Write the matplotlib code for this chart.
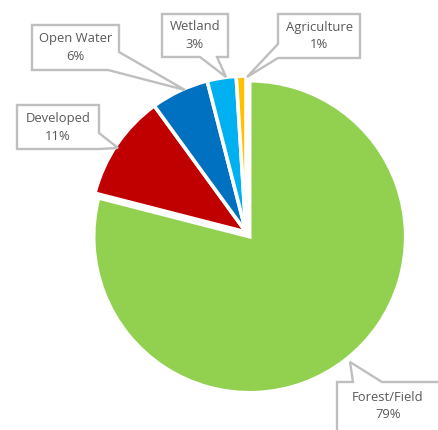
import matplotlib
matplotlib.use("Agg")
import matplotlib.pyplot as plt
from matplotlib.patches import Polygon

# ---- data ----
categories = ["Forest/Field", "Developed", "Open Water", "Wetland", "Agriculture"]
values = [79, 11, 6, 3, 1]
pct_labels = ["79%", "11%", "6%", "3%", "1%"]
colors = ["#92D050", "#C00000", "#0070C0", "#00B0F0", "#FFC000"]

W, H = 438, 430
fig = plt.figure(figsize=(W / 100, H / 100), dpi=100)
ax = fig.add_axes([0, 0, 1, 1])

def P(x, y):
    return (x, H - y)

wedges, _ = ax.pie(values, colors=colors, startangle=90, counterclock=False,
                   center=P(246, 232), radius=156,
                   explode=[6, 0, 0, 0, 0],
                   wedgeprops=dict(edgecolor="white", linewidth=2.6))

ax.set_xlim(0, W)
ax.set_ylim(0, H)
ax.set_aspect("equal", adjustable="box")
ax.axis("off")

# callout layout (pixel coords): polygon outline, text centre
callouts = {
    "Open Water": ([(32, 25), (119, 25), (119, 52), (185, 90), (108, 70), (32, 70)], (75.5, 47.5)),
    "Wetland": ([(162, 14), (228, 14), (228, 57), (217, 57), (226, 77), (200, 57), (162, 57)], (195, 35.5)),
    "Agriculture": ([(278, 14), (360, 14), (360, 58), (278, 58), (247, 77), (278, 44)], (319, 36)),
    "Developed": ([(17, 105), (99, 105), (99, 133), (118, 148), (99, 149), (17, 149)], (58, 127.5)),
    "Forest/Field": ([(337, 382), (353, 382), (350, 362), (382, 382), (445, 382), (445, 445), (337, 445)], (388, 406)),
}

for cat, pct in zip(categories, pct_labels):
    verts, (tx, ty) = callouts[cat]
    poly = Polygon([P(x, y) for x, y in verts], closed=True, facecolor="white",
                   edgecolor="#BFBFBF", linewidth=1.7, joinstyle="miter", zorder=5,
                   clip_on=False)
    ax.add_patch(poly)
    ax.text(*P(tx, ty), f"{cat}\n{pct}", ha="center", va="center",
            fontsize=9.4, color="#595959", family=["Open Sans", "DejaVu Sans"],
            linespacing=1.45, zorder=6)

fig.savefig("out.png", dpi=100, facecolor="white")
